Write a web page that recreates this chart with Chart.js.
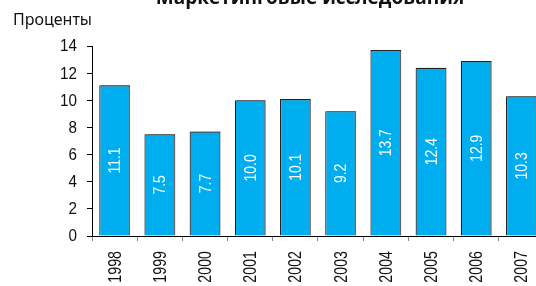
<!DOCTYPE html>
<html>
<head>
<meta charset="utf-8">
<script src="https://cdn.jsdelivr.net/npm/chart.js@4.4.1/dist/chart.umd.min.js"></script>
<style>
  html, body { margin: 0; padding: 0; background: #fff; overflow: hidden; }
  #wrap { position: relative; width: 546px; height: 286px; }
</style>
</head>
<body>
<div id="wrap"><canvas id="chart" width="546" height="286"></canvas></div>
<script>
const years = ['1998', '1999', '2000', '2001', '2002', '2003', '2004', '2005', '2006', '2007'];
const percents = [11.1, 7.5, 7.7, 10.0, 10.1, 9.2, 13.7, 12.4, 12.9, 10.3];
const yTicks = [0, 2, 4, 6, 8, 10, 12, 14];
const titleText = 'Маркетинговые исследования';
const unitText = 'Проценты';

const sans = "'Liberation Sans', Arial, sans-serif";

// узкий текст: обычный шрифт, сжатый по ширине
function narrowText(ctx, text, x, y, angle, squeeze, align) {
    ctx.save();
    ctx.translate(x, y);
    ctx.rotate(angle);
    ctx.scale(squeeze, 1);
    ctx.textAlign = align;
    ctx.fillText(text, 0, 0);
    ctx.restore();
}

// тень справа у столбцов
const shadowPlugin = {
    id: 'barShadow',
    beforeDatasetsDraw(chart) {
        const ctx = chart.ctx;
        ctx.save();
        ctx.shadowColor = 'rgba(120,120,120,0.8)';
        ctx.shadowOffsetX = 2;
        ctx.shadowOffsetY = 0;
        ctx.shadowBlur = 0;
    },
    afterDatasetsDraw(chart) {
        chart.ctx.restore();
    }
};

const labelsPlugin = {
    id: 'barLabels',
    afterDraw(chart) {
        const ctx = chart.ctx;
        const meta = chart.getDatasetMeta(0);
        const xs = chart.scales.x;
        const ys = chart.scales.y;
        ctx.save();
        ctx.textBaseline = 'middle';

        // значения внутри столбцов
        ctx.fillStyle = '#ffffff';
        ctx.font = '17px ' + sans;
        meta.data.forEach((bar, i) => {
            const cy = (bar.y + bar.base) / 2;
            narrowText(ctx, percents[i].toFixed(1), bar.x + 1, cy, -Math.PI / 2, 0.82, 'center');
        });

        // подписи осей
        ctx.fillStyle = '#111';
        ctx.font = '16px ' + sans;
        yTicks.forEach(v => {
            narrowText(ctx, String(v), 77, ys.getPixelForValue(v) + 1, 0, 0.95, 'right');
        });
        ctx.font = '18px ' + sans;
        years.forEach((y, i) => {
            narrowText(ctx, y, xs.getPixelForTick(i) + 1, 251, -Math.PI / 2, 0.79, 'right');
        });

        ctx.textBaseline = 'alphabetic';
        ctx.textAlign = 'left';
        ctx.font = '16px "Noto Sans", sans-serif';
        ctx.fillText(unitText, 13, 25);

        ctx.textAlign = 'center';
        ctx.font = 'bold 19px "Open Sans", sans-serif';
        ctx.fillText(titleText, 310, 4);
        ctx.restore();
    }
};

const ctx = document.getElementById('chart').getContext('2d');
new Chart(ctx, {
    type: 'bar',
    data: {
        labels: years,
        datasets: [{
            data: percents,
            backgroundColor: '#00aeef',
            borderColor: '#222222',
            borderWidth: 1.2,
            borderSkipped: 'bottom',
            barPercentage: 0.68,
            categoryPercentage: 1
        }]
    },
    options: {
        responsive: false,
        animation: false,
        layout: { padding: { top: 46, right: 1, left: 0, bottom: 0 } },
        plugins: {
            legend: { display: false },
            tooltip: { enabled: false },
            title: { display: false }
        },
        scales: {
            x: {
                offset: true,
                grid: {
                    offset: true,
                    drawOnChartArea: false,
                    drawTicks: true,
                    tickLength: 5,
                    color: '#888'
                },
                border: { color: '#000', width: 1 },
                ticks: {
                    color: 'rgba(0,0,0,0)',
                    font: { family: sans, size: 18 },
                    minRotation: 90,
                    maxRotation: 90,
                    autoSkip: false
                },
                afterFit(scale) { scale.height = 50; }
            },
            y: {
                min: 0,
                max: 14,
                grid: {
                    drawOnChartArea: false,
                    drawTicks: true,
                    tickLength: 5,
                    color: '#000'
                },
                border: { color: '#000', width: 1 },
                ticks: {
                    stepSize: 2,
                    color: 'rgba(0,0,0,0)',
                    font: { family: sans, size: 16 }
                },
                afterFit(scale) { scale.width = 92; }
            }
        }
    },
    plugins: [shadowPlugin, labelsPlugin]
});
</script>
</body>
</html>
